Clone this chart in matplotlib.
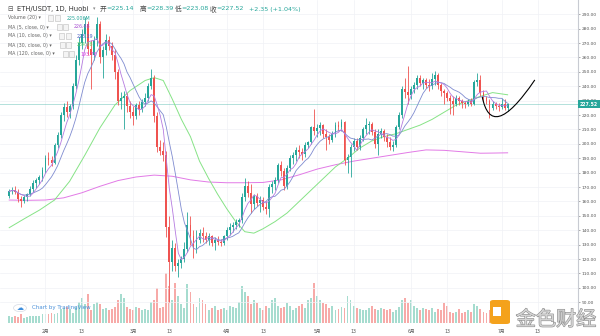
import numpy as np
import pandas as pd
import matplotlib
matplotlib.use("Agg")
import matplotlib.pyplot as plt
import matplotlib.patheffects as pe
from matplotlib.patches import Rectangle, Circle, FancyBboxPatch, PathPatch
from matplotlib.path import Path

plt.rcParams["font.family"] = ["DejaVu Sans", "Noto Sans CJK SC"]

# ---------------- data: ETH/USDT daily, Huobi ----------------
dates = pd.date_range("2020-01-20", "2020-07-03", freq="D")

opens = [164.0, 167.0, 168.2, 166.8, 161.5, 160.5, 163.0, 165.5, 168.5, 173.0, 175.0, 177.0,
         182.0, 190.5, 189.0, 187.0, 199.0, 206.0, 220.0, 225.5, 222.0, 226.5, 240.0, 258.0,
         270.0, 276.0, 283.0, 266.0, 262.0, 272.0, 283.0, 260.0, 265.0, 272.0, 268.0, 262.0,
         250.0, 230.0, 232.0, 233.5, 226.0, 222.0, 219.0, 227.0, 224.0, 229.0, 232.0, 240.0,
         246.0, 219.0, 198.0, 195.0, 192.0, 142.0, 118.0, 128.0, 115.0, 117.0, 120.0, 127.0,
         144.0, 136.0, 128.0, 133.0, 138.0, 136.0, 133.0, 136.0, 131.0, 133.0, 132.0, 131.0,
         136.0, 140.0, 142.0, 144.0, 146.0, 147.0, 163.0, 171.0, 166.0, 158.0, 164.0, 159.0,
         161.0, 156.0, 155.0, 170.0, 172.0, 175.0, 185.0, 181.0, 171.0, 183.0, 190.0, 192.0,
         196.0, 194.0, 193.0, 199.0, 201.0, 212.0, 209.0, 211.0, 213.0, 207.0, 205.0, 203.0,
         207.0, 213.0, 212.0, 215.0, 189.0, 191.0, 198.0, 202.0, 198.0, 204.0, 210.0, 213.0,
         214.0, 208.0, 200.0, 207.0, 209.0, 205.0, 201.0, 198.0, 199.0, 212.0, 220.0, 238.0,
         236.0, 234.0, 238.0, 241.0, 246.0, 242.0, 244.0, 241.0, 240.0, 245.0, 248.0, 241.0,
         237.0, 235.0, 232.0, 230.0, 228.0, 232.0, 230.0, 228.5, 227.5, 229.5, 228.0, 243.0,
         244.0, 235.2, 231.8, 229.6, 225.1, 227.8, 226.3, 225.6, 227.81, 225.14]
highs = [168.5, 170.0, 171.0, 168.5, 164.0, 164.5, 166.0, 170.5, 175.0, 176.5, 178.5, 184.0,
         192.0, 194.0, 191.5, 200.5, 208.0, 222.0, 228.5, 229.5, 228.0, 242.0, 262.0, 274.0,
         280.0, 288.0, 285.0, 272.0, 275.0, 288.0, 285.0, 268.0, 276.0, 275.0, 271.0, 266.0,
         252.0, 236.0, 237.0, 235.0, 230.0, 226.0, 228.5, 230.0, 231.0, 235.0, 242.0, 252.0,
         248.0, 222.0, 203.0, 201.0, 195.0, 150.0, 133.0, 131.0, 120.0, 122.0, 132.0, 153.0,
         150.0, 140.0, 140.0, 141.0, 142.0, 139.0, 138.0, 137.0, 135.0, 136.0, 134.0, 137.0,
         142.0, 145.0, 146.0, 148.0, 148.5, 166.0, 176.0, 174.0, 172.0, 165.0, 166.0, 164.0,
         163.0, 160.0, 172.0, 174.0, 177.0, 187.0, 188.0, 183.0, 185.0, 192.0, 194.0, 198.0,
         199.0, 197.0, 201.0, 202.0, 212.5, 224.0, 214.0, 215.0, 214.0, 210.0, 207.0, 209.0,
         215.0, 216.0, 217.0, 216.0, 193.0, 200.0, 204.0, 204.0, 206.0, 212.0, 218.0, 216.0,
         215.0, 210.0, 210.0, 211.0, 210.0, 207.0, 205.0, 202.0, 213.0, 222.0, 240.0, 246.0,
         254.0, 240.0, 243.0, 248.0, 248.0, 246.0, 246.0, 245.0, 249.0, 250.5, 249.0, 242.0,
         238.0, 237.0, 234.0, 233.0, 234.0, 233.0, 231.0, 230.0, 231.0, 232.0, 244.0, 249.0,
         248.0, 237.5, 233.0, 231.0, 229.5, 229.0, 228.5, 232.0, 231.0, 228.39]
lows = [162.5, 165.0, 165.5, 159.5, 156.0, 159.0, 160.5, 163.5, 166.5, 169.5, 172.0, 174.5,
        180.0, 185.0, 184.5, 186.0, 197.0, 204.0, 216.0, 218.5, 218.0, 224.5, 238.0, 255.0,
        266.0, 270.0, 262.0, 238.0, 258.0, 268.0, 256.0, 246.0, 262.0, 265.0, 258.0, 245.0,
        227.0, 224.0, 210.0, 222.0, 218.0, 213.0, 217.0, 220.0, 222.0, 226.0, 230.0, 238.0,
        215.0, 194.0, 192.0, 188.0, 135.0, 90.0, 112.0, 112.0, 107.5, 114.0, 118.0, 125.0,
        130.0, 121.0, 124.0, 131.0, 132.0, 131.0, 130.0, 129.0, 126.0, 130.0, 129.0, 130.0,
        133.0, 137.0, 139.0, 141.0, 142.0, 145.0, 160.0, 163.0, 152.0, 155.0, 157.0, 153.0,
        154.0, 151.0, 149.0, 166.0, 168.0, 173.0, 178.0, 168.0, 169.0, 181.0, 186.0, 188.0,
        190.0, 189.0, 191.0, 197.0, 200.0, 206.0, 205.0, 206.0, 204.0, 196.0, 200.0, 201.0,
        205.0, 209.0, 209.0, 185.0, 180.0, 177.0, 195.0, 196.0, 196.0, 202.0, 207.0, 207.0,
        206.0, 197.0, 192.0, 204.0, 202.0, 198.0, 196.0, 195.0, 198.0, 210.0, 218.0, 232.0,
        228.0, 231.0, 235.0, 238.0, 240.0, 238.0, 239.0, 237.0, 238.0, 241.0, 238.0, 233.0,
        228.0, 230.0, 221.0, 220.0, 226.0, 227.0, 225.0, 225.0, 226.0, 226.5, 227.0, 240.0,
        233.0, 229.5, 227.5, 218.0, 223.5, 224.0, 223.0, 224.5, 223.5, 223.08]
closes = [167.0, 168.2, 166.8, 161.5, 160.5, 163.0, 165.5, 168.5, 173.0, 175.0, 177.0, 182.0,
          190.5, 189.0, 187.0, 199.0, 206.0, 220.0, 225.5, 222.0, 226.5, 240.0, 258.0, 270.0,
          276.0, 283.0, 266.0, 262.0, 272.0, 283.0, 260.0, 265.0, 272.0, 268.0, 262.0, 250.0,
          230.0, 232.0, 233.5, 226.0, 222.0, 219.0, 227.0, 224.0, 229.0, 232.0, 240.0, 246.0,
          219.0, 198.0, 195.0, 192.0, 142.0, 118.0, 128.0, 115.0, 117.0, 120.0, 127.0, 144.0,
          136.0, 128.0, 133.0, 138.0, 136.0, 133.0, 136.0, 131.0, 133.0, 132.0, 131.0, 136.0,
          140.0, 142.0, 144.0, 146.0, 147.0, 163.0, 171.0, 166.0, 158.0, 164.0, 159.0, 161.0,
          156.0, 155.0, 170.0, 172.0, 175.0, 185.0, 181.0, 171.0, 183.0, 190.0, 192.0, 196.0,
          194.0, 193.0, 199.0, 201.0, 212.0, 209.0, 211.0, 213.0, 207.0, 205.0, 203.0, 207.0,
          213.0, 212.0, 215.0, 189.0, 191.0, 198.0, 202.0, 198.0, 204.0, 210.0, 213.0, 214.0,
          208.0, 200.0, 207.0, 209.0, 205.0, 201.0, 198.0, 199.0, 212.0, 220.0, 238.0, 236.0,
          234.0, 238.0, 241.0, 246.0, 242.0, 244.0, 241.0, 240.0, 245.0, 248.0, 241.0, 237.0,
          235.0, 232.0, 230.0, 228.0, 232.0, 230.0, 228.5, 227.5, 229.5, 228.0, 243.0, 244.0,
          235.2, 231.8, 229.6, 225.1, 227.8, 226.3, 225.6, 227.81, 225.17, 227.52]
# daily volume, millions
volumes = [280, 235, 280, 235, 330, 190, 235, 280, 280, 280, 280, 330,
           330, 330, 375, 330, 375, 515, 560, 610, 515, 375, 610, 800,
           940, 700, 1080, 470, 700, 800, 700, 515, 560, 470, 515, 610,
           845, 1080, 940, 610, 515, 470, 610, 560, 470, 515, 470, 800,
           845, 1310, 560, 610, 1875, 1400,
           845, 1500, 1030, 700, 560, 1480, 1170, 700, 610, 940, 845, 700,
           470, 560, 655, 470, 515, 560, 470, 655, 610, 560, 800, 1400,
           1170, 1030, 700, 845, 750, 560, 470, 655, 560, 845, 940, 655,
           560, 610, 750, 655, 470, 560, 655, 700, 560, 845, 940, 1500,
           1030, 845, 750, 700, 560, 655, 470, 515, 610, 560, 1030, 845,
           655, 560, 515, 470, 470, 560, 655, 515, 470, 560, 515, 470,
           515, 420, 470, 610, 845, 940, 750, 845, 655, 560, 470, 560,
           515, 470, 560, 420, 515, 470, 750, 655, 420, 375, 420, 515,
           375, 420, 470, 420, 700, 655, 515, 420, 375, 470, 420, 375,
           420, 375, 330, 225.006]

# longer moving averages (day index -> value)
ma30_day = [0, 5, 10, 15, 20, 25, 30, 35, 40, 45, 48, 51, 54, 57, 60, 63, 66, 69, 72, 75,
            78, 81, 84, 88, 92, 96, 100, 104, 108, 112, 116, 120, 124, 128, 132, 136, 140,
            144, 148, 152, 156, 160, 165]
ma30_val = [141.8, 148.0, 154.0, 161.0, 174.0, 192.0, 211.0, 227.0, 237.0, 244.0, 246.0,
            244.0, 231.0, 217.0, 205.0, 188.0, 176.0, 165.0, 155.0, 146.0, 139.0, 138.0,
            141.0, 146.0, 152.0, 160.0, 168.0, 176.0, 184.0, 190.0, 197.0, 202.0, 205.0,
            207.0, 210.0, 213.0, 217.0, 222.0, 227.0, 230.0, 233.0, 235.6, 234.08]
ma120_day = [0, 6, 12, 18, 24, 30, 36, 42, 48, 54, 60, 66, 72, 78, 84, 90, 96, 102, 108,
             114, 120, 126, 132, 138, 144, 150, 156, 160, 165]
ma120_val = [161.0, 160.8, 161.0, 162.5, 166.0, 170.5, 174.5, 177.0, 178.3, 177.5, 175.0,
             173.5, 173.0, 173.0, 173.2, 175.0, 178.5, 182.5, 185.5, 188.0, 190.0, 192.0,
             194.0, 195.8, 195.5, 194.5, 193.5, 193.6, 193.78]

month_ticks = [(12, "2月"), (24, "13"), (41, "3月"), (53, "13"), (72, "4月"), (84, "13"),
               (102, "5月"), (114, "13"), (133, "6月"), (145, "13"), (163, "7月"), (175, "13")]

# hand-drawn rounding-bottom sketch (day index, price)
sketch = [(156.6, 232.6), (158.6, 212.0), (164.0, 213.5), (174.0, 244.4)]

# ---------------- derived series ----------------
o = np.array(opens); h = np.array(highs); l = np.array(lows); c = np.array(closes)
v = np.array(volumes, dtype=float)
n = len(c)
assert len(dates) == n == len(o) == len(h) == len(l) == len(v)
idx = np.arange(n)
cs = pd.Series(c)
ma5 = cs.rolling(5, min_periods=1).mean().values
ma10 = cs.rolling(10, min_periods=1).mean().values

UP, DN = "#26a69a", "#ef5350"
UPV, DNV = "#a6dccf", "#f7aaa8"
up = c >= o

# ---------------- figure ----------------
W, H = 600, 336
fig = plt.figure(figsize=(W / 100, H / 100), dpi=100, facecolor="white")

def fx(x):
    return x / W

def fy(y):
    return 1 - y / H

ax_box = [0, fy(323), fx(578), (323) / H]
axv = fig.add_axes(ax_box)
ax = fig.add_axes(ax_box, sharex=axv)
ax.patch.set_visible(False)

xlo, xhi = -3.05, 188.3
ylo, yhi = 75.6, 299.9

# volume
axv.bar(idx, v, width=0.62, color=np.where(up, UPV, DNV), linewidth=0)
axv.set_ylim(0, v.max() * 323 / 50)
axv.set_xlim(xlo, xhi)
axv.axis("off")

# grid
for p in range(90, 300, 10):
    ax.axhline(p, color="#f0f2f6", lw=0.5, zorder=0)
for d, _ in month_ticks:
    ax.axvline(d, color="#f0f2f6", lw=0.5, zorder=0)

# candles
cols = np.where(up, UP, DN)
ax.vlines(idx, l, h, colors=cols, lw=0.6, zorder=3)
body = np.maximum(np.abs(c - o), 0.35)
ax.bar(idx, body, bottom=np.minimum(o, c), width=0.62, color=cols, linewidth=0, zorder=4)

# moving averages
ax.plot(ma120_day, ma120_val, color="#e27ae6", lw=0.7, zorder=2)
ax.plot(ma30_day, ma30_val, color="#86e386", lw=0.7, zorder=2)
ax.plot(idx, ma10, color="#7f8bd0", lw=0.6, zorder=5)
ax.plot(idx, ma5, color="#b57be0", lw=0.6, zorder=5)

# last price line
last = c[-1]
ax.axhline(last, color=UP, lw=0.6, ls=(0, (1.2, 1.2)), alpha=0.8, zorder=1)

# sketch curve
path = Path(sketch, [Path.MOVETO, Path.CURVE4, Path.CURVE4, Path.CURVE4])
ax.add_patch(PathPatch(path, fill=False, ec="black", lw=0.8, zorder=6, clip_on=False))

ax.set_xlim(xlo, xhi)
ax.set_ylim(ylo, yhi)
ax.yaxis.tick_right()
ax.set_yticks(np.arange(90, 300, 10))
ax.set_yticklabels([f"{p:.2f}" for p in range(90, 300, 10)])
ax.tick_params(axis="y", direction="out", length=1.5, width=0.5, pad=1.2,
               labelsize=3.2, colors="#8a8a8a", labelcolor="#555555")
ax.set_xticks([d for d, _ in month_ticks])
ax.set_xticklabels([t for _, t in month_ticks])
ax.tick_params(axis="x", length=0, pad=4.4, labelsize=3.3, labelcolor="#555555")
for s in ["top", "left", "bottom"]:
    ax.spines[s].set_visible(False)
ax.spines["right"].set_color("#c8cbd2")
ax.spines["right"].set_linewidth(0.8)

# last price tag on the scale
ax.text(1.0035, last, f"{last:.2f}", transform=ax.get_yaxis_transform(), ha="left", va="center",
        fontsize=3.3, color="white", fontweight="bold", zorder=10, clip_on=False,
        bbox=dict(boxstyle="square,pad=0.35", fc=UP, ec="none"))

# ---------------- header & legend ----------------
chg = c[-1] - c[-2]
pct = chg / c[-2] * 100
hy = 9
fig.text(fx(7), fy(hy), "⊟", fontsize=4.8, color="#555555", va="center")
fig.text(fx(17), fy(hy), "ETH/USDT, 1D, Huobi", fontsize=4.9, color="#333333", va="center")
fig.text(fx(93), fy(hy), "▾", fontsize=3.5, color="#888888", va="center")
for xk, k, val in [(100, "开", o[-1]), (140, "高", h[-1]), (175, "低", l[-1]), (210, "收", c[-1])]:
    fig.text(fx(xk), fy(hy), k, fontsize=4.8, color="#444444", va="center")
    fig.text(fx(xk + 6.0), fy(hy), f"={val:.2f}", fontsize=4.6, color=UP, va="center")
fig.text(fx(249), fy(hy), f"{chg:+.2f} ({pct:+.2f}%)", fontsize=4.6, color=UP, va="center")

rows = [
    ("Volume (20) ▾", 18, 48.3, 66.7, f"{v[-1]:.3f}M", UP),
    ("MA (5, close, 0) ▾", 27, 56.7, 74.0, f"{ma5[-1]:.2f}", "#a64fd0"),
    ("MA (10, close, 0) ▾", 36, 59.3, 76.7, f"{ma10[-1]:.2f}", "#4e63c4"),
    ("MA (30, close, 0) ▾", 45, 60.0, 76.7, f"{ma30_val[-1]:.2f}", "#5fd35f"),
    ("MA (120, close, 0) ▾", 54, 62.7, 80.0, f"{ma120_val[-1]:.2f}", "#de47e6"),
]
for name, ry, ix, vx, txt, col in rows:
    fig.text(fx(8), fy(ry), name, fontsize=3.4, color="#666666", va="center")
    for k in range(2):
        fig.add_artist(Rectangle((fx(ix + k * 6.2), fy(ry + 2.6)), fx(5), 5.2 / H,
                                 transform=fig.transFigure, fc="#f4f4f4", ec="#bdbdbd", lw=0.4))
    fig.text(fx(vx), fy(ry), txt, fontsize=3.4, color=col, va="center")

# ---------------- branding ----------------
fig.add_artist(Circle((fx(20), fy(308)), 6.5 / W, transform=fig.transFigure,
                      fc="white", ec="#d6dbe4", lw=0.5, zorder=20))
fig.text(fx(20), fy(308.3), "☁", fontsize=5, color="#3c8ddc", ha="center", va="center", zorder=21)
fig.text(fx(32), fy(308), "Chart by TradingView", fontsize=4.0, color="#4a90d9", va="center", zorder=21)

fig.add_artist(FancyBboxPatch((fx(490), fy(324)), fx(20), 24 / H, boxstyle="round,pad=0,rounding_size=0.006",
                              transform=fig.transFigure, fc="#f4a21c", ec="none", zorder=20))
fig.add_artist(Rectangle((fx(493), fy(316)), fx(8), 9 / H, transform=fig.transFigure,
                         fc="white", ec="none", zorder=21))
fig.text(fx(556), fy(320), "金色财经", fontsize=14.5, color="#d4d4d4", ha="center", va="center",
         family=["Noto Sans CJK SC"], zorder=21,
         path_effects=[pe.withStroke(linewidth=0.8, foreground="#8c8c8c")])

fig.savefig("out.png", dpi=100, facecolor="white")
